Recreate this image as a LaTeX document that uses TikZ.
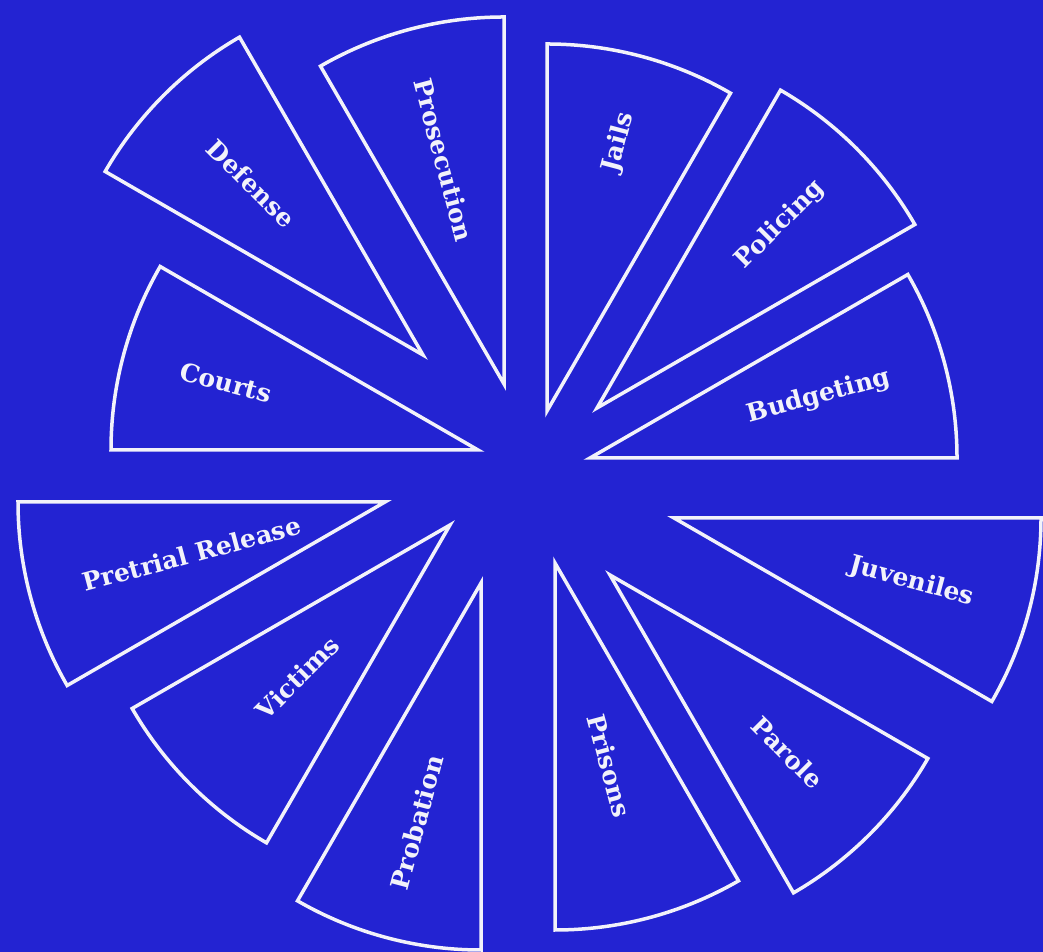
\documentclass[tikz,border=0pt]{standalone}
\usepackage{fontspec}
\setmainfont{DejaVu Serif}
\usepackage{xcolor}
\usetikzlibrary{calc}
\definecolor{boardBlue}{HTML}{2323D2}
\definecolor{chalkWhite}{HTML}{F2F2FA}

\begin{document}
\begin{tikzpicture}[x=1pt, y=1pt,
    wedge/.style={draw=chalkWhite, line width=3.5pt, line join=miter},
    wedgeLabel/.style={text=chalkWhite, inner sep=0pt,
        font=\bfseries\fontsize{25}{30}\selectfont}]
    \fill[boardBlue] (0,0) rectangle (1043,952);
    \useasboundingbox (0,0) rectangle (1043,952);

    % start angle / tip / label distance / label rotation / name / text
    \foreach \a/\tx/\ty/\dist/\rot/\nm/\txt in {
        60/547/541/278/75/jails/Jails,
        30/597/544/259/45/policing/Policing,
        0/590/494/237/15/budgeting/Budgeting,
        -30/674/434/246/-15/juveniles/Juveniles,
        -60/610/377/251/-45/parole/Parole,
        -90/555/389/210/-75/prisons/Prisons,
        -120/481/369/248/75/probation/Probation,
        -150/450/427/216/45/victims/Victims,
        180/385/450/200/15/pretrial/Pretrial Release,
        150/478/502/261/-15/courts/Courts,
        120/423/597/243/-45/defense/Defense,
        90/504/568/232/-75/prosecution/Prosecution}
    {
        \draw[wedge] (\tx,\ty) -- ++(\a:367)
            arc[start angle=\a, end angle=\a+30, radius=367] -- cycle;
        \node[wedgeLabel, rotate=\rot] (\nm) at ($(\tx,\ty)+({\a+15}:\dist)$) {\txt};
    }
\end{tikzpicture}
\end{document}
